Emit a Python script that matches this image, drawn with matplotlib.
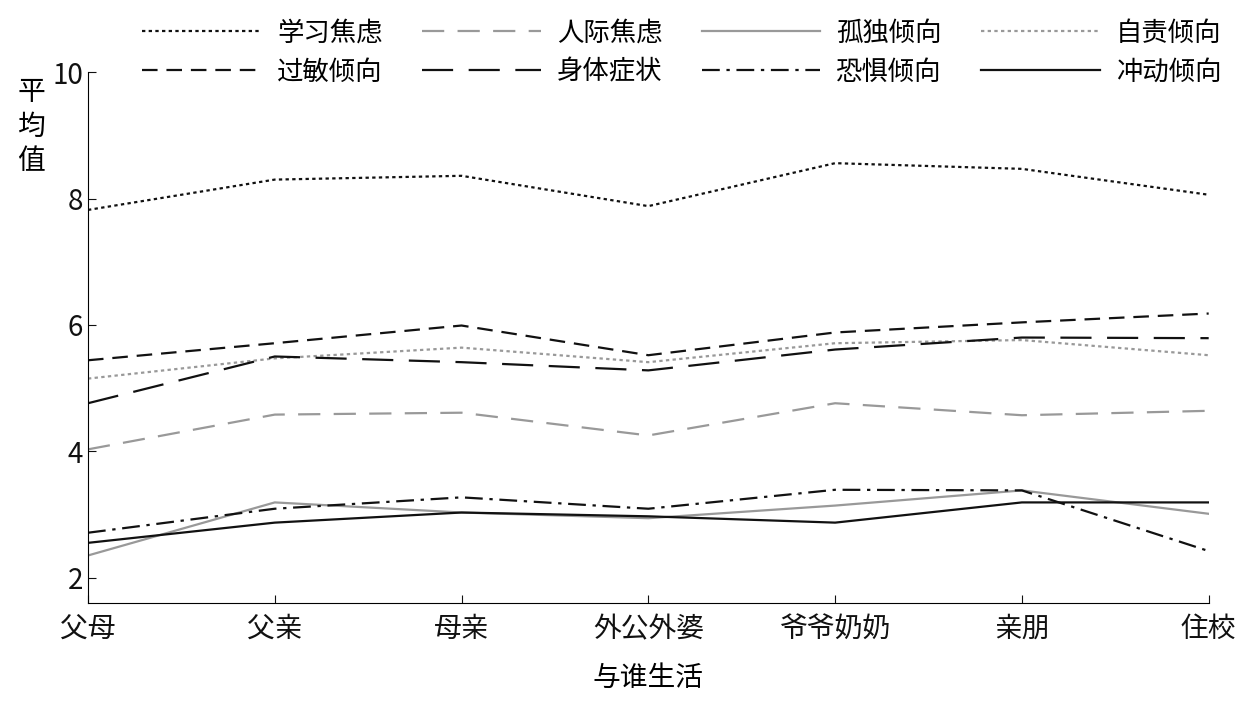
import matplotlib.pyplot as plt
from matplotlib import font_manager

cjk = [f.name for f in font_manager.fontManager.ttflist if "CJK" in f.name]
plt.rcParams["font.family"] = ["Noto Sans CJK SC"] + cjk + ["DejaVu Sans"]

categories = ["父母", "父亲", "母亲", "外公外婆", "爷爷奶奶", "亲朋", "住校"]
xue_xi = [7.82, 8.30, 8.36, 7.88, 8.56, 8.47, 8.06]
ren_ji = [4.03, 4.58, 4.61, 4.25, 4.76, 4.57, 4.64]
gu_du = [2.35, 3.19, 3.03, 2.94, 3.14, 3.38, 3.01]
zi_ze = [5.15, 5.47, 5.64, 5.41, 5.71, 5.76, 5.52]
guo_min = [5.44, 5.71, 5.99, 5.52, 5.88, 6.04, 6.18]
shen_ti = [4.76, 5.50, 5.41, 5.28, 5.61, 5.80, 5.79]
kong_ju = [2.71, 3.09, 3.27, 3.09, 3.39, 3.38, 2.42]
chong_dong = [2.55, 2.87, 3.03, 2.97, 2.87, 3.19, 3.19]

series = [
    ("学习焦虑", xue_xi, "#111111", (0, (1.5, 1.5))),
    ("人际焦虑", ren_ji, "#999999", (0, (10, 6))),
    ("孤独倾向", gu_du, "#999999", "-"),
    ("自责倾向", zi_ze, "#999999", (0, (1.5, 1.5))),
    ("过敏倾向", guo_min, "#111111", (0, (7, 4))),
    ("身体症状", shen_ti, "#111111", (0, (14, 7))),
    ("恐惧倾向", kong_ju, "#111111", (0, (8, 3, 1.5, 3))),
    ("冲动倾向", chong_dong, "#111111", "-"),
]

fig = plt.figure(figsize=(12.48, 7.01), dpi=100)
ax = fig.add_axes([0.0705, 0.14, 0.898, 0.757])
x = range(len(categories))
for name, vals, color, ls in series:
    ax.plot(x, vals, color=color, linestyle=ls, linewidth=1.6, label=name)

ax.set_xlim(0, len(categories) - 1)
ax.set_ylim(1.6, 10)
ax.set_yticks([2, 4, 6, 8, 10])
ax.set_xticks(list(x))
ax.set_xticklabels(categories)
ax.tick_params(direction="in", labelsize=20, length=6, colors="#111111")
ax.tick_params(axis="x", pad=8)
for s in ["top", "right"]:
    ax.spines[s].set_visible(False)
ax.set_xlabel("与谁生活", fontsize=20, labelpad=14)
fig.text(0.025, 0.89, "平\n均\n值", fontsize=20, va="top", ha="center", linespacing=1.2)

# legend fills row by row, as in the reference
handles, labels = ax.get_legend_handles_labels()
order = [0, 4, 1, 5, 2, 6, 3, 7]
ax.legend([handles[i] for i in order], [labels[i] for i in order],
          loc="lower center", bbox_to_anchor=(0.53, 0.93), ncol=4, frameon=False,
          fontsize=19, handlelength=4.5, columnspacing=1.5, handletextpad=0.6,
          labelspacing=0.45)

fig.savefig("out.png")
